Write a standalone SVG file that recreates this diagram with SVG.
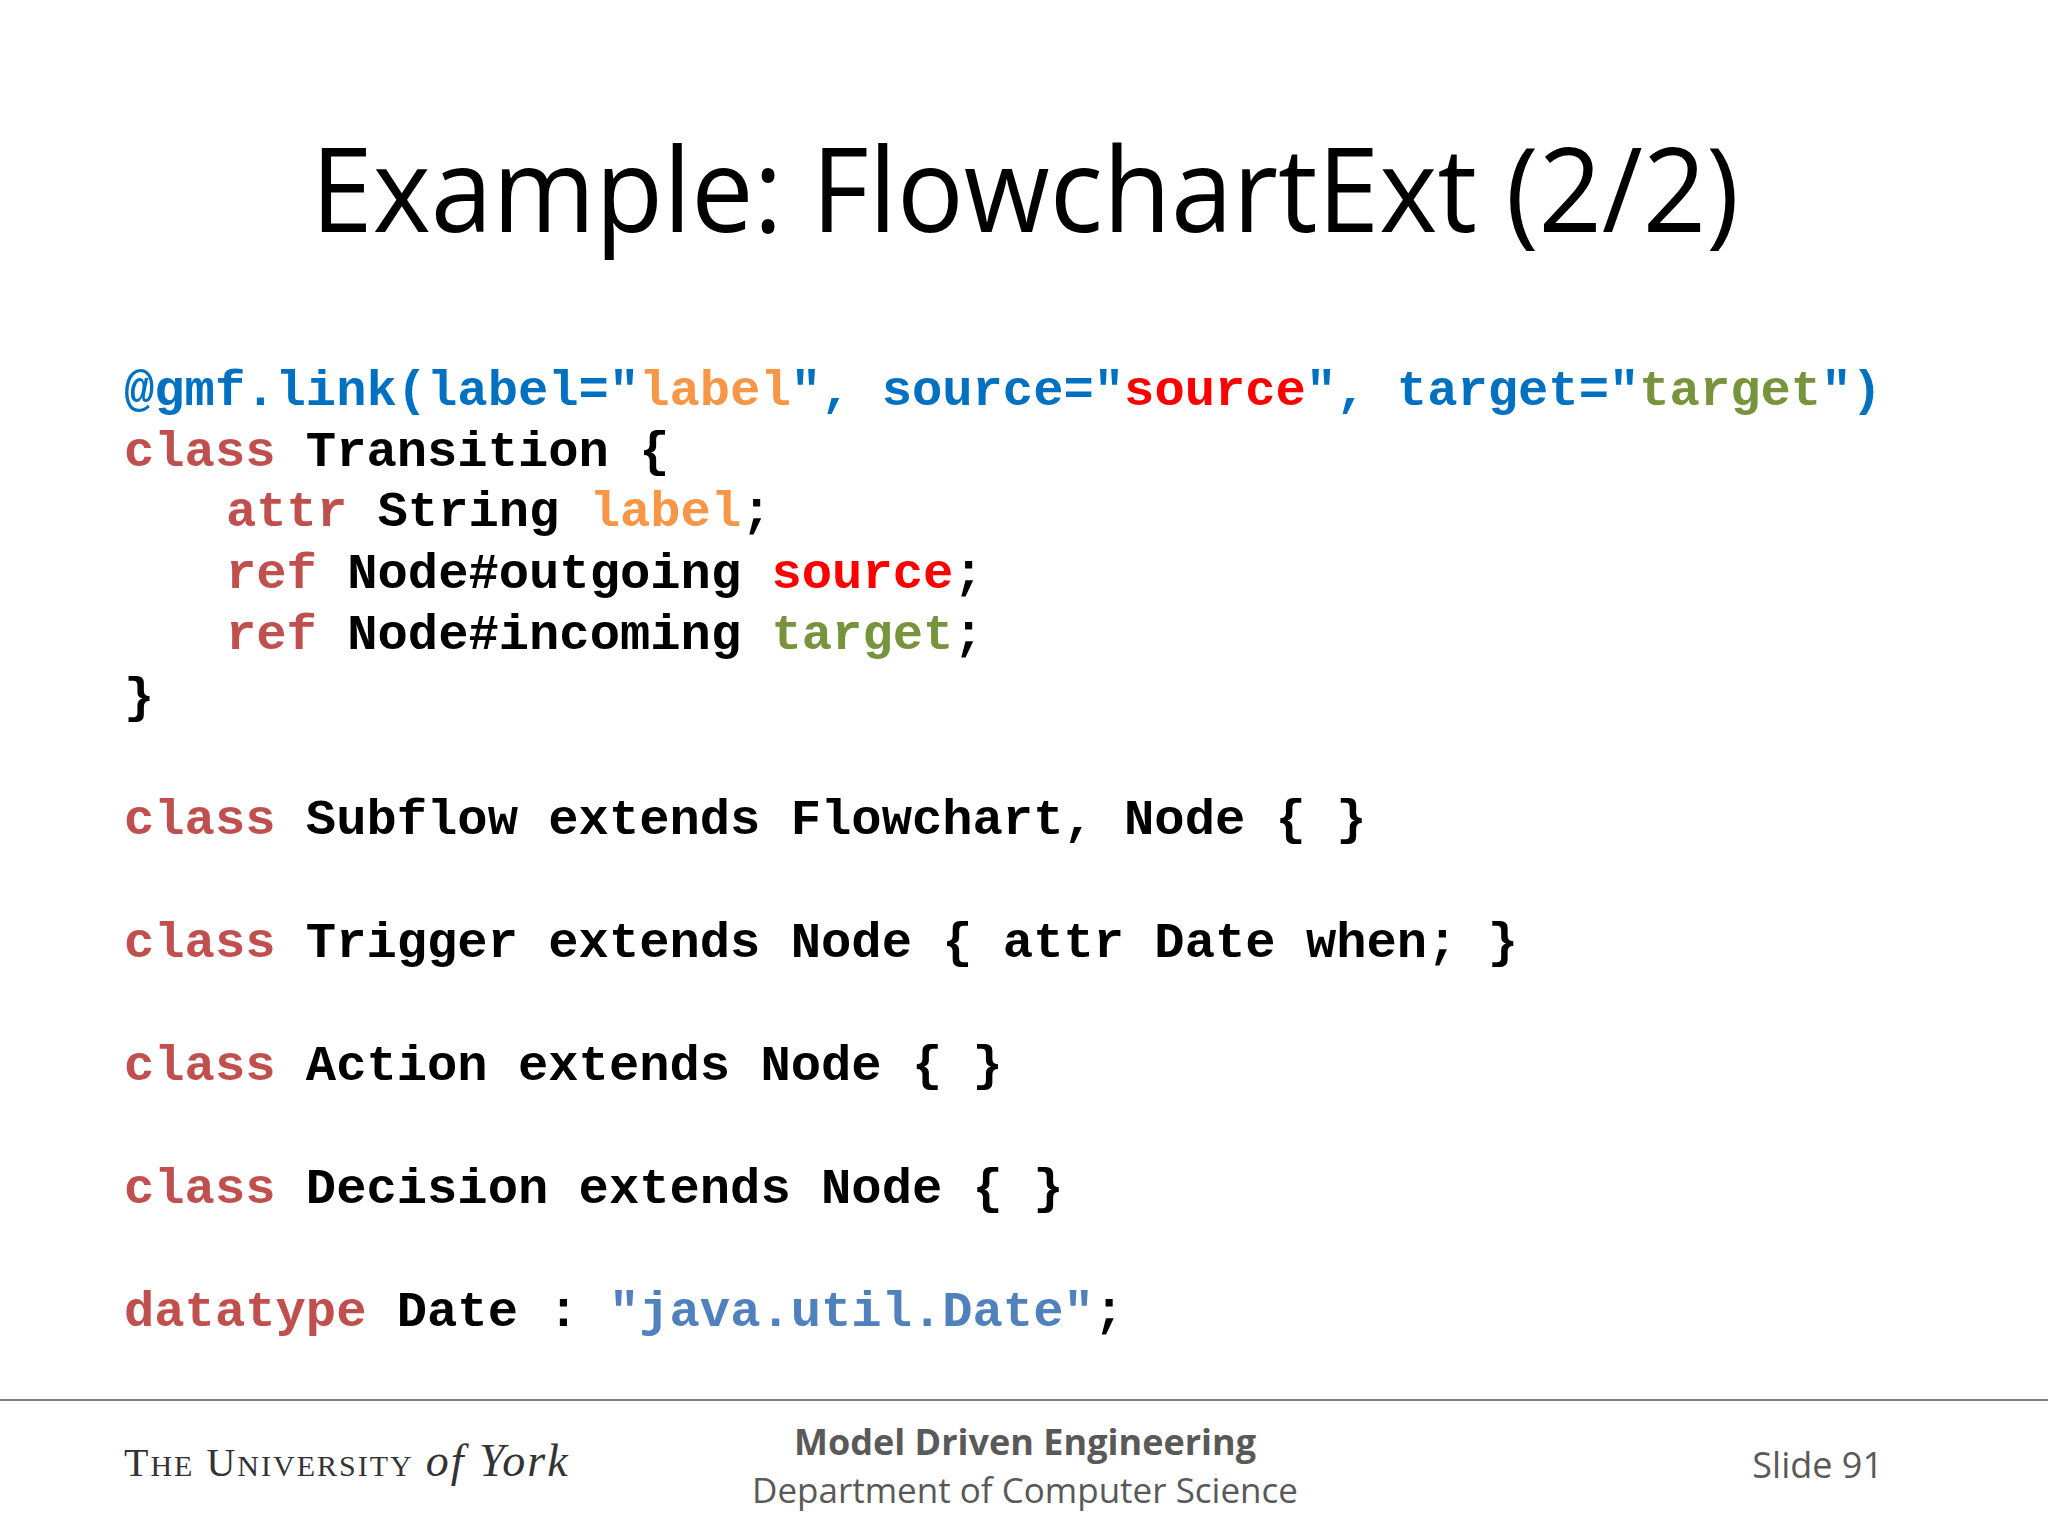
<svg xmlns="http://www.w3.org/2000/svg" width="2048" height="1536" viewBox="0 0 2048 1536" xml:space="preserve">
<style>
.c{font-family:"Liberation Mono","Courier New",monospace;font-weight:bold;font-size:50.5px;fill:#000}
.k{fill:#c0504d}.b{fill:#0070c0}.o{fill:#f79646}.r{fill:#ff0000}.g{fill:#77933c}.s{fill:#4f81bd}
.f{font-family:"Open Sans","Liberation Sans",sans-serif;fill:#595959}
</style>
<rect width="2048" height="1536" fill="#fff"/>
<text x="1025" y="232" text-anchor="middle" font-family="Open Sans, Liberation Sans, sans-serif" font-size="118" fill="#000" textLength="1428" lengthAdjust="spacingAndGlyphs">Example: FlowchartExt (2/2)</text>
<g id="code" class="c">
<text class="c" x="124" y="405"><tspan class="b">@gmf.link(label="</tspan><tspan class="o">label</tspan><tspan class="b">", source="</tspan><tspan class="r">source</tspan><tspan class="b">", target="</tspan><tspan class="g">target</tspan><tspan class="b">")</tspan></text>
<text class="c" x="124" y="466"><tspan class="k">class</tspan> Transition {</text>
<text class="c" x="226" y="526"><tspan class="k">attr</tspan> String <tspan class="o">label</tspan>;</text>
<text class="c" x="226" y="588"><tspan class="k">ref</tspan> Node#outgoing <tspan class="r">source</tspan>;</text>
<text class="c" x="226" y="649"><tspan class="k">ref</tspan> Node#incoming <tspan class="g">target</tspan>;</text>
<text class="c" x="124" y="712">}</text>
<text class="c" x="124" y="834"><tspan class="k">class</tspan> Subflow extends Flowchart, Node { }</text>
<text class="c" x="124" y="957"><tspan class="k">class</tspan> Trigger extends Node { attr Date when; }</text>
<text class="c" x="124" y="1080"><tspan class="k">class</tspan> Action extends Node { }</text>
<text class="c" x="124" y="1203"><tspan class="k">class</tspan> Decision extends Node { }</text>
<text class="c" x="124" y="1326"><tspan class="k">datatype</tspan> Date : <tspan class="s">"java.util.Date"</tspan>;</text>
</g>
<line x1="0" y1="1400" x2="2048" y2="1400" stroke="#7f7f7f" stroke-width="2"/>
<text x="124" y="1476" font-family="Liberation Serif, serif" font-size="40" fill="#333" letter-spacing="2">T<tspan font-size="30">HE</tspan> U<tspan font-size="30">NIVERSITY</tspan> <tspan font-style="italic" font-size="46">of York</tspan></text>
<text class="f" x="1025" y="1455" text-anchor="middle" font-size="36" font-weight="bold">Model Driven Engineering</text>
<text class="f" x="1025" y="1503" text-anchor="middle" font-size="35">Department of Computer Science</text>
<text class="f" x="1883" y="1478" text-anchor="end" font-size="36">Slide 91</text>
</svg>
